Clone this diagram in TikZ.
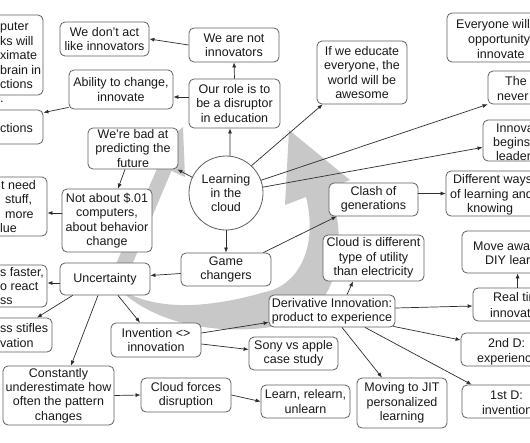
\documentclass[tikz,border=0pt]{standalone}
\usepackage{fontspec}
\setmainfont{Liberation Sans}
\usetikzlibrary{calc,arrows.meta}
\definecolor{arrowgray}{RGB}{200,200,200}
\definecolor{boxline}{RGB}{95,95,95}
\definecolor{edgeline}{RGB}{45,45,45}
\definecolor{txt}{RGB}{25,25,25}
\begin{document}
\begin{tikzpicture}[x=1pt,y=-1pt,
 box/.style={draw=boxline, line width=0.8pt, rounded corners=5pt, fill=white, align=center, inner sep=1pt, text=txt, font=\fontsize{12.5}{14.4}\selectfont},
 frag/.style={anchor=base west, inner sep=0pt, text=txt, font=\fontsize{12.5}{14.4}\selectfont},
 link/.style={draw=edgeline, line width=0.7pt, -{Latex[length=5pt,width=4pt]}},
 bigarrow/.style={fill=arrowgray, draw=none}]
\clip (0,0) rectangle (530,442);
\fill[white] (0,0) rectangle (530,442);
% grey background arrows
\fill[bigarrow] (183,127) -- (185,177) -- (171.4,170.9) .. controls (155,210) and (140,245) .. (126,280) -- (112,274) .. controls (126,240) and (142,203) .. (158.6,165.1) -- (145,159) -- cycle;
\fill[bigarrow] (118,288) .. controls (165,335) and (250,335) .. (295,322) .. controls (335,305) and (350,250) .. (330,188) -- (350,180) -- (289,130) -- (285,205) -- (306,197) .. controls (318,245) and (300,285) .. (265,292) .. controls (220,305) and (160,315) .. (118,288) -- cycle;
% main nodes
\node[box, minimum width=89pt, minimum height=34pt] (wedont) at (104.5,39) {We don't act\\like innovators};
\node[box, minimum width=90pt, minimum height=34pt] (wenot) at (234,45) {We are not\\innovators};
\node[box, minimum width=91pt, minimum height=49pt] (ourrole) at (234.5,103.5) {Our role is to\\be a disruptor\\in education};
\node[box, minimum width=104pt, minimum height=39pt] (ability) at (121,89.5) {Ability to change,\\innovate};
\node[box, minimum width=90pt, minimum height=41pt, inner ysep=0pt] (badat) at (133,148.5) {We're bad at\\predicting the\\future};
\node[box, minimum width=90pt, minimum height=63pt] (notabout) at (107,220.5) {Not about \$.01\\computers,\\about behavior\\change};
\node[box, minimum width=90pt, minimum height=63pt] (ifwe) at (362,72.5) {If we educate\\everyone, the\\world will be\\awesome};
\node[box, circle, rounded corners=0pt, minimum size=74pt] (learning) at (226,193) {Learning\\in the\\cloud};
\node[box, minimum width=89pt, minimum height=33pt] (clash) at (373.5,199.5) {Clash of\\generations};
\node[box, minimum width=101pt, minimum height=46pt] (cloudis) at (373.5,258) {Cloud is different\\type of utility\\than electricity};
\node[box, minimum width=90pt, minimum height=33pt] (game) at (226,269.5) {Game\\changers};
\node[box, minimum width=90pt, minimum height=32pt] (uncert) at (105,279) {Uncertainty};
\node[box, minimum width=111pt, minimum height=59pt] (constantly) at (58.5,395.5) {Constantly\\underestimate how\\often the pattern\\changes};
\node[box, minimum width=90pt, minimum height=34pt] (invention) at (156,340) {Invention <>\\innovation};
\node[box, minimum width=90pt, minimum height=34pt] (cloudforces) at (186,395) {Cloud forces\\disruption};
\node[box, minimum width=89pt, minimum height=33pt] (sony) at (293.5,353.5) {Sony vs apple\\case study};
\node[box, minimum width=89pt, minimum height=33pt] (learn) at (305.5,401.5) {Learn, relearn,\\unlearn};
\node[box, minimum width=126pt, minimum height=32pt] (deriv) at (332,311) {Derivative Innovation:\\product to experience};
\node[box, minimum width=90pt, minimum height=50pt] (moving) at (402,403) {Moving to JIT\\personalized\\learning};
% boxes cut by the picture's edges
\node[box, minimum width=93pt, minimum height=80pt] (tlbox) at (-3.5,55) {};
\node[box, minimum width=93pt, minimum height=34pt] (ctbox) at (-3.5,127) {};
\node[box, minimum width=97pt, minimum height=59pt] (hbox) at (-1.5,206.5) {};
\node[box, minimum width=97pt, minimum height=42pt] (jbox) at (-1.5,286) {};
\node[box, minimum width=102pt, minimum height=34pt] (kbox) at (1,335) {};
\node[box, minimum width=153pt, minimum height=49pt] (evbox) at (523.5,37.5) {};
\node[box, minimum width=112pt, minimum height=33pt] (thebox) at (544,87.5) {};
\node[box, minimum width=117pt, minimum height=41pt] (innbox) at (541.5,140.5) {};
\node[box, minimum width=154pt, minimum height=45pt] (wbox) at (523,193.5) {};
\node[box, minimum width=138pt, minimum height=42pt] (vbox) at (531,252) {};
\node[box, minimum width=127pt, minimum height=33pt] (sbox) at (536.5,304.5) {};
\node[box, minimum width=139pt, minimum height=33pt] (tbox) at (530.5,349.5) {};
\node[box, minimum width=138pt, minimum height=33pt] (ubox) at (531,401.5) {};
% their visible text
\node[frag] (tla) at (0,30) {puter};
\node[frag] (tlb) at (0,45) {ks will};
\node[frag] (tlc) at (0,59) {ximate};
\node[frag] (tld) at (0,74) {brain in};
\node[frag] (tle) at (0,88) {ctions};
\node[frag] (tlf) at (0,102) {.};
\node[frag] (cta) at (0,132) {ctions};
\node[frag] (ha) at (1,189) {t need};
\node[frag] (hb) at (5,203) {stuff,};
\node[frag] (hc) at (5,218) {more};
\node[frag] (hd) at (0,232) {lue};
\node[frag] (ja) at (0,276) {s faster,};
\node[frag] (jb) at (0,290) {o react};
\node[frag] (jc) at (0,304) {ss};
\node[frag] (ka) at (0,332) {ss stifles};
\node[frag] (kb) at (0,347) {vation};
\node[frag] (eva) at (456,28) {Everyone will};
\node[frag] (evb) at (468,43) {opportunity};
\node[frag] (evc) at (477,58) {innovate};
\node[frag] (thea) at (505,85) {The};
\node[frag] (theb) at (497,100) {never};
\node[frag] (inna) at (496,132) {Innova};
\node[frag] (innb) at (493,146) {begins};
\node[frag] (innc) at (496,160) {leader};
\node[frag] (wa) at (453,183) {Different ways};
\node[frag] (wb) at (450,198) {of learning and};
\node[frag] (wc) at (467,212) {knowing};
\node[frag] (va) at (473,250) {Move away};
\node[frag] (vb) at (485,264) {DIY learn};
\node[frag] (sa) at (493,301) {Real tim};
\node[frag] (sb) at (490,317) {innovati};
\node[frag] (ta) at (488,347) {2nd D:};
\node[frag] (tb) at (477,362) {experienc};
\node[frag] (ua) at (490,399) {1st D:};
\node[frag] (ub) at (482,414) {invention};
% connectors
\draw[link] (wenot.west) -- (wedont.east);
\draw[link] (ourrole.north) -- (wenot.south);
\draw[link] ($(ourrole.west)+(0,-6.5)$) -- ($(ability.east)+(0,7.5)$);
\draw[link] ($(ability.south west)+(0,-2)$) -- ($(ctbox.north east)+(0,3)$);
\draw[link] (learning.84) -- ($(ourrole.south)+(-4.5,0)$);
\draw[link] (learning.155) -- ($(badat.south east)+(-1,0)$);
\draw[link] ($(badat.south)+(-8,0)$) -- ($(notabout.north)+(11,0)$);
\draw[link] ($(notabout.west)+(0,-7.5)$) -- ($(hbox.east)+(0,6.5)$);
\draw[link] (learning.47) -- ($(ifwe.south west)+(6,0)$);
\draw[link] (learning.20) -- (thebox.south west);
\draw[link] (learning.9) -- ($(innbox.south west)+(0,-14)$);
\draw[link] (learning.south) -- (game.north);
\draw[link] ($(game.north east)+(-8,0)$) -- ($(clash.south west)+(8,0)$);
\draw[link] (clash.east |- wbox.west) -- (wbox.west);
\draw[link] ($(game.west)+(0,4)$) -- ($(uncert.east)+(0,-3.5)$);
\draw[link] ($(uncert.west)+(0,4)$) -- ($(jbox.east)+(0,-3)$);
\draw[link] ($(uncert.south west)+(13,0)$) -- ($(kbox.north)+(36,0)$);
\draw[link] ($(uncert.south)+(-7,0)$) -- ($(constantly.north)+(12.5,0)$);
\draw[link] ($(uncert.south)+(13,0)$) -- ($(invention.north)+(-16,0)$);
\draw[link] (constantly.east) -- (cloudforces.west);
\draw[link] (cloudforces.east) -- (learn.west);
\draw[link] ($(invention.east)+(0,4)$) -- ($(sony.west)+(0,-4)$);
\draw[link] ($(invention.east)+(0,-7)$) -- ($(deriv.south west)+(0,-5)$);
\draw[link] ($(deriv.north)+(15,0)$) -- ($(cloudis.south)+(-20.5,0)$);
\draw[link] ($(deriv.east)+(0,-3)$) -- ($(sbox.west)+(0,1.5)$);
\draw[link] ($(deriv.south east)+(-2,-1)$) -- ($(tbox.west)+(0,-9.5)$);
\draw[link] ($(deriv.south)+(33,0)$) -- ($(ubox.north west)+(10,0)$);
\draw[link] ($(deriv.south)+(10,0)$) -- ($(moving.north)+(-20,0)$);
\draw[link] ($(sbox.north west)+(45,0)$) -- ($(vbox.south west)+(56,0)$);
\end{tikzpicture}
\end{document}
